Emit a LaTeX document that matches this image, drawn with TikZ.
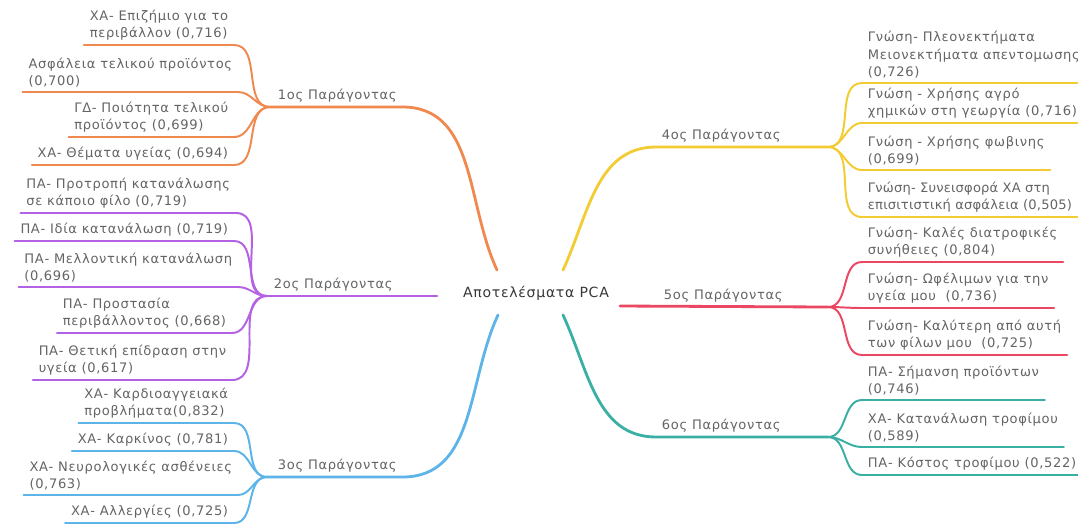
\documentclass[tikz,border=0pt]{standalone}
\usepackage{fontspec}
\setmainfont{DejaVu Sans}[LetterSpace=5]
\usetikzlibrary{positioning}

\definecolor{txtgray}{RGB}{100,100,100}
\definecolor{rootgray}{RGB}{55,55,55}
\definecolor{cOrange}{RGB}{240,137,80}
\definecolor{cPurple}{RGB}{178,98,226}
\definecolor{cBlue}{RGB}{92,180,232}
\definecolor{cYellow}{RGB}{242,204,50}
\definecolor{cRed}{RGB}{234,72,98}
\definecolor{cTeal}{RGB}{58,176,164}

\begin{document}
\begin{tikzpicture}[
    x=0.025cm, y=-0.025cm,
    every node/.style={font=\fontsize{9.3}{12.5}\selectfont, text=txtgray},
    root/.style={font=\fontsize{10}{13}\selectfont, text=rootgray},
    leaf/.style={align=left, inner xsep=4pt, inner ysep=3pt},
    leafL/.style={leaf, anchor=south east},
    leafR/.style={leaf, anchor=south west},
    factor/.style={inner xsep=4pt, inner ysep=3pt, anchor=south west},
    twig/.style={line width=1.4pt, line cap=round},
    bough/.style={line width=2pt, line cap=round}
]
\useasboundingbox (0,0) rectangle (1078,529);

% centre
\node[root] (root) at (536,293) {Αποτελέσματα PCA};
\coordinate (r1) at (497,270);
\coordinate (r2) at (437,296);
\coordinate (r3) at (498,315);
\coordinate (r4) at (563,270);
\coordinate (r5) at (620,306);
\coordinate (r6) at (563,315);

% junctions
\coordinate (j1) at (270,107);
\coordinate (j2) at (267,296);
\coordinate (j3) at (267,477);
\coordinate (j4) at (828,147);
\coordinate (j5) at (828,307);
\coordinate (j6) at (828,437);

% factors
\node[factor] (f1) at (272,107) {1ος Παράγοντας};
\node[factor] (f2) at (268,296) {2ος Παράγοντας};
\node[factor] (f3) at (272,477) {3ος Παράγοντας};
\node[factor] (f4) at (656,147) {4ος Παράγοντας};
\node[factor] (f5) at (658,307) {5ος Παράγοντας};
\node[factor] (f6) at (656,437) {6ος Παράγοντας};

% left leaves
\node[leafL] (o1) at (234,45) {ΧΑ- Επιζήμιο για το\\περιβάλλον (0,716)};
\node[leafL] (o2) at (238,92) {Ασφάλεια τελικού προϊόντος\\(0,700)};
\node[leafL] (o3) at (234,137) {ΓΔ- Ποιότητα τελικού\\προϊόντος (0,699)};
\node[leafL] (o4) at (234,165) {ΧΑ- Θέματα υγείας (0,694)};

\node[leafL] (p1) at (236,213) {ΠΑ- Προτροπή κατανάλωσης\\σε κάποιο φίλο (0,719)};
\node[leafL] (p2) at (234,241) {ΠΑ- Ιδία κατανάλωση (0,719)};
\node[leafL] (p3) at (238,287) {ΠΑ- Μελλοντική κατανάλωση\\(0,696)};
\node[leafL] (p4) at (232,333) {ΠΑ- Προστασία\\περιβάλλοντος (0,668)};
\node[leafL] (p5) at (232,380) {ΠΑ- Θετική επίδραση στην\\υγεία (0,617)};

\node[leafL] (b1) at (234,423) {ΧΑ- Καρδιοαγγειακά\\προβλήματα(0,832)};
\node[leafL] (b2) at (234,451) {ΧΑ- Καρκίνος (0,781)};
\node[leafL] (b3) at (238,495) {ΧΑ- Νευρολογικές ασθένειες\\(0,763)};
\node[leafL] (b4) at (234,523) {ΧΑ- Αλλεργίες (0,725)};

% right leaves
\node[leafR] (y1) at (862,83) {Γνώση- Πλεονεκτήματα\\Μειονεκτήματα απεντομωσης\\(0,726)};
\node[leafR] (y2) at (862,123) {Γνώση - Χρήσης αγρό\\χημικών στη γεωργία (0,716)};
\node[leafR] (y3) at (862,170) {Γνώση - Χρήσης φωβινης\\(0,699)};
\node[leafR, font=\fontsize{9.3}{12.5}\selectfont\addfontfeatures{LetterSpace=1.5}] (y4) at (862,217) {Γνώση- Συνεισφορά ΧΑ στη\\επισιτιστική ασφάλεια (0,505)};

\node[leafR] (e1) at (862,262) {Γνώση- Καλές διατροφικές\\συνήθειες (0,804)};
\node[leafR] (e2) at (862,308) {Γνώση- Ωφέλιμων για την\\υγεία μου~ (0,736)};
\node[leafR] (e3) at (862,355) {Γνώση- Καλύτερη από αυτή\\των φίλων μου~ (0,725)};

\node[leafR] (t1) at (862,400) {ΠΑ- Σήμανση προϊόντων\\(0,746)};
\node[leafR] (t2) at (862,447) {ΧΑ- Κατανάλωση τροφίμου\\(0,589)};
\node[leafR] (t3) at (862,475) {ΠΑ- Κόστος τροφίμου (0,522)};

% main branches
\draw[bough, cOrange] (r1) to[out=115, in=0] (f1.south east) -- (j1);
\draw[bough, cPurple] (r2) -- (j2);
\draw[bough, cBlue] (r3) to[out=-115, in=0] (f3.south east) -- (j3);
\draw[bough, cYellow] (r4) to[out=65, in=180] (f4.south west) -- (j4);
\draw[bough, cRed] (r5) -- (j5);
\draw[bough, cTeal] (r6) to[out=-65, in=180] (f6.south west) -- (j6);

% twigs
\foreach \l in {o1,o2,o3,o4}
    \draw[twig, cOrange] (j1) to[out=180, in=0] (\l.south east) -- (\l.south west);
\foreach \l in {p1,p2,p3,p4,p5}
    \draw[twig, cPurple] (j2) to[out=180, in=0] (\l.south east) -- (\l.south west);
\foreach \l in {b1,b2,b3,b4}
    \draw[twig, cBlue] (j3) to[out=180, in=0] (\l.south east) -- (\l.south west);
\foreach \l in {y1,y2,y3,y4}
    \draw[twig, cYellow] (j4) to[out=0, in=180] (\l.south west) -- (\l.south east);
\foreach \l in {e1,e2,e3}
    \draw[twig, cRed] (j5) to[out=0, in=180] (\l.south west) -- (\l.south east);
\foreach \l in {t1,t2,t3}
    \draw[twig, cTeal] (j6) to[out=0, in=180] (\l.south west) -- (\l.south east);

\end{tikzpicture}
\end{document}
